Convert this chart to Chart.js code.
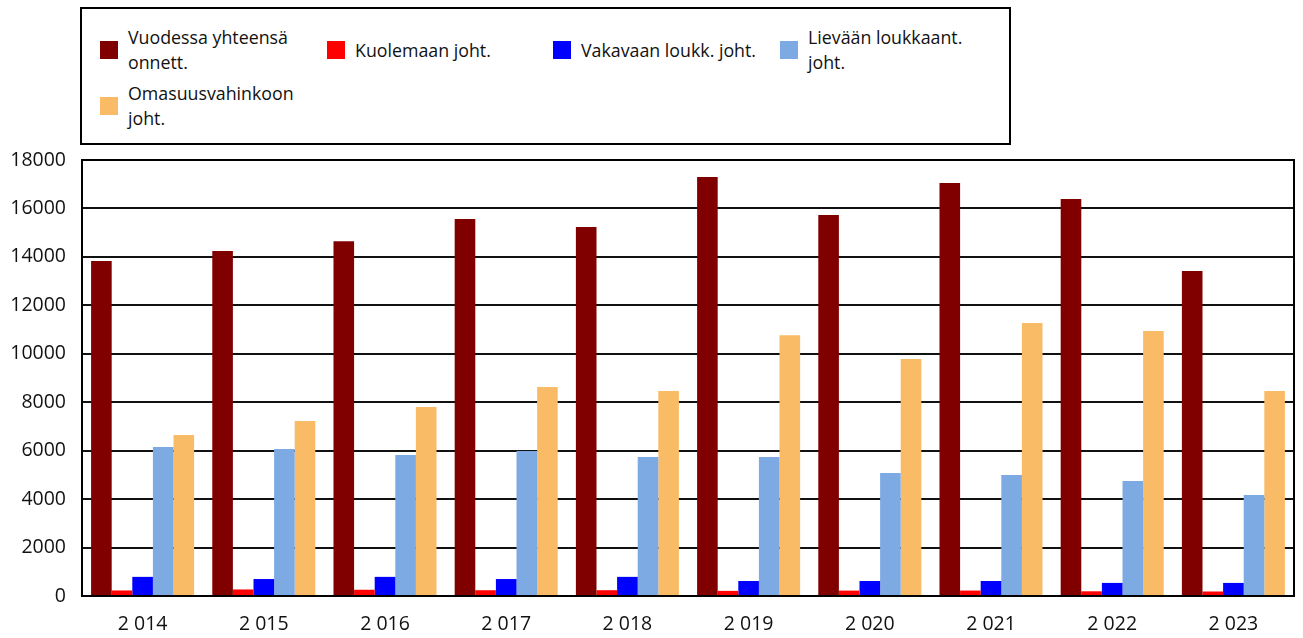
<!DOCTYPE html>
<html>
<head>
<meta charset="utf-8">
<script src="https://cdn.jsdelivr.net/npm/chart.js@4/dist/chart.umd.min.js"></script>
<style>
  html, body { margin: 0; padding: 0; background: #fff; }
  body { width: 1303px; height: 638px; position: relative; overflow: hidden; font-family: "Open Sans", sans-serif; }
  #chart { position: absolute; left: 0; top: 0; }
  #legend { position: absolute; left: 80px; top: 7px; width: 931px; height: 138px; box-sizing: border-box; border: 2px solid #000; background: #fff; }
  .item { position: absolute; height: 50px; display: flex; align-items: center; font-size: 17.8px; line-height: 25px; color: #111; white-space: nowrap; }
  .swatch { width: 18px; height: 18px; margin-right: 10px; flex: none; }
</style>
</head>
<body>
<canvas id="chart" width="1303" height="638"></canvas>
<div id="legend"></div>
<script>
const years = ['2\u00a0014', '2\u00a0015', '2\u00a0016', '2\u00a0017', '2\u00a0018', '2\u00a0019', '2\u00a0020', '2\u00a0021', '2\u00a0022', '2\u00a0023'];

const seriesNames = ['Vuodessa yhteensä onnett.', 'Kuolemaan joht.', 'Vakavaan loukk. joht.', 'Lievään loukkaant. joht.', 'Omasuusvahinkoon joht.'];
const legendLines = [['Vuodessa yhteensä', 'onnett.'], ['Kuolemaan joht.'], ['Vakavaan loukk. joht.'], ['Lievään loukkaant.', 'joht.'], ['Omasuusvahinkoon', 'joht.']];
const seriesColors = ['#800000', '#ff0000', '#0000ff', '#7eaae4', '#f9bb66'];

const totalAccidents = [13830, 14240, 14650, 15560, 15230, 17300, 15730, 17050, 16390, 13420];
const fatal = [229, 270, 258, 238, 239, 211, 223, 225, 194, 186];
const serious = [790, 700, 790, 700, 790, 620, 620, 620, 540, 540];
const lightInjury = [6150, 6070, 5820, 5990, 5740, 5740, 5080, 5000, 4750, 4170];
const propertyDamage = [6650, 7220, 7800, 8630, 8460, 10770, 9780, 11270, 10940, 8460];

const yTicks = [0, 2000, 4000, 6000, 8000, 10000, 12000, 14000, 16000, 18000];

const seriesData = [totalAccidents, fatal, serious, lightInjury, propertyDamage];

// frame round the plot area
const frame = {
  id: 'frame',
  afterDraw(chart) {
    const { ctx, chartArea: a } = chart;
    ctx.save();
    ctx.strokeStyle = '#000';
    ctx.lineWidth = 2;
    ctx.strokeRect(a.left, a.top, a.right - a.left, a.bottom - a.top);
    ctx.restore();
  }
};

const chart = new Chart(document.getElementById('chart'), {
  type: 'bar',
  data: {
    labels: years,
    datasets: seriesNames.map((name, i) => ({
      label: name,
      data: seriesData[i],
      backgroundColor: seriesColors[i],
      borderWidth: 0,
      categoryPercentage: 0.85,
      barPercentage: 1.0
    }))
  },
  options: {
    responsive: false,
    animation: false,
    layout: { padding: { top: 160, right: 9, left: 0, bottom: 0 } },
    plugins: {
      legend: { display: false },
      tooltip: { enabled: false }
    },
    scales: {
      x: {
        grid: { display: false, drawTicks: false },
        border: { display: false },
        ticks: { color: '#111', font: { family: 'Open Sans', size: 19.5 }, padding: 17, maxRotation: 0 },
        afterFit(scale) { scale.height = 42; }
      },
      y: {
        min: 0,
        max: 18000,
        afterBuildTicks(scale) { scale.ticks = yTicks.map(v => ({ value: v })); },
        grid: { color: '#111', lineWidth: 2, drawTicks: false },
        border: { display: false },
        ticks: {
          color: '#111',
          font: { family: 'Open Sans', size: 19.5 },
          padding: 16,
          callback: v => String(v)
        },
        afterFit(scale) { scale.width = 82; }
      }
    }
  },
  plugins: [frame]
});

// legend built from the chart's datasets
const legendBox = document.getElementById('legend');
const colX = [18, 245, 471, 698];
const rowY = [16, 72];
chart.data.datasets.forEach((ds, i) => {
  const item = document.createElement('div');
  item.className = 'item';
  item.style.left = colX[i % 4] + 'px';
  item.style.top = rowY[Math.floor(i / 4)] + 'px';
  const sw = document.createElement('span');
  sw.className = 'swatch';
  sw.style.background = ds.backgroundColor;
  const txt = document.createElement('span');
  txt.innerHTML = legendLines[i].join('<br>');
  item.appendChild(sw);
  item.appendChild(txt);
  legendBox.appendChild(item);
});
</script>
</body>
</html>
